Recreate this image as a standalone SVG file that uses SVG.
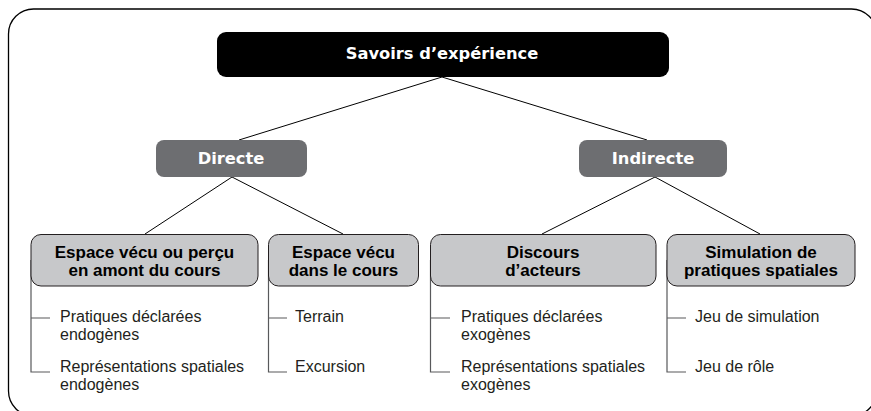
<svg xmlns="http://www.w3.org/2000/svg" width="871" height="411" viewBox="0 0 871 411">
<style>
.frame{fill:#fff;stroke:#000;stroke-width:1.3}
.top{fill:#000}
.mid{fill:#6d6e71}
.child{fill:#c7c8ca;stroke:#231f20;stroke-width:1}
.conn{stroke:#000;stroke-width:1;fill:none}
.leafline{stroke:#58595b;stroke-width:1.2;fill:none}
.tw{font-family:"DejaVu Sans","Liberation Sans",Arial,sans-serif;font-weight:bold;font-size:16.3px;fill:#fff;text-anchor:middle}
.tb{font-family:"Liberation Sans",Arial,sans-serif;font-weight:bold;font-size:17px;fill:#000;text-anchor:middle}
.tl{font-family:"Liberation Sans",Arial,sans-serif;font-size:16px;fill:#231f20}
</style>
<rect class="frame" x="8.5" y="9" width="868" height="407" rx="25" ry="25"/>
<g id="connectors">
<line class="conn" x1="442" y1="77" x2="239" y2="140"/>
<line class="conn" x1="442" y1="77" x2="647" y2="140"/>
<line class="conn" x1="232" y1="177" x2="145" y2="234"/>
<line class="conn" x1="232" y1="177" x2="343" y2="234"/>
<line class="conn" x1="655" y1="177" x2="542" y2="234"/>
<line class="conn" x1="655" y1="177" x2="760" y2="234"/>
<path class="leafline" d="M31,260 V372 H50 M31,318 H50"/>
<path class="leafline" d="M268.5,260 V372 H287 M268.5,318 H287"/>
<path class="leafline" d="M430.5,260 V372 H450 M430.5,318 H450"/>
<path class="leafline" d="M667,260 V372 H686 M667,318 H686"/>
</g>
<g id="root">
<rect class="top" x="217" y="32" width="452" height="45" rx="9"/>
<text class="tw" x="442" y="59">Savoirs d’expérience</text>
</g>
<g id="directe">
<rect class="mid" x="156" y="140" width="151" height="37" rx="8"/>
<text class="tw" x="231" y="164">Directe</text>
</g>
<g id="indirecte">
<rect class="mid" x="579" y="140" width="148" height="37" rx="8"/>
<text class="tw" x="653" y="164">Indirecte</text>
</g>
<g id="espace-amont">
<rect class="child" x="31" y="234.5" width="227" height="51.5" rx="10"/>
<text class="tb" x="144.5" y="257.5">Espace vécu ou perçu</text>
<text class="tb" x="144.5" y="275.5">en amont du cours</text>
</g>
<g id="espace-cours">
<rect class="child" x="268.5" y="234.5" width="150" height="51.5" rx="10"/>
<text class="tb" x="343.5" y="257.5">Espace vécu</text>
<text class="tb" x="343.5" y="275.5">dans le cours</text>
</g>
<g id="discours">
<rect class="child" x="430.5" y="234.5" width="225.5" height="51.5" rx="10"/>
<text class="tb" x="543" y="257.5">Discours</text>
<text class="tb" x="543" y="275.5">d’acteurs</text>
</g>
<g id="simulation">
<rect class="child" x="667" y="234.5" width="188" height="51.5" rx="10"/>
<text class="tb" x="761" y="257.5">Simulation de</text>
<text class="tb" x="761" y="275.5">pratiques spatiales</text>
</g>
<g id="leaf-pratiques-endo">
<text class="tl" x="60" y="322">Pratiques déclarées</text>
<text class="tl" x="60" y="340">endogènes</text>
</g>
<g id="leaf-repr-endo">
<text class="tl" x="60" y="372">Représentations spatiales</text>
<text class="tl" x="60" y="390">endogènes</text>
</g>
<g id="leaf-terrain">
<text class="tl" x="295" y="322">Terrain</text>
</g>
<g id="leaf-excursion">
<text class="tl" x="295" y="372">Excursion</text>
</g>
<g id="leaf-pratiques-exo">
<text class="tl" x="461" y="322">Pratiques déclarées</text>
<text class="tl" x="461" y="340">exogènes</text>
</g>
<g id="leaf-repr-exo">
<text class="tl" x="461" y="372">Représentations spatiales</text>
<text class="tl" x="461" y="390">exogènes</text>
</g>
<g id="leaf-jeu-sim">
<text class="tl" x="695" y="322">Jeu de simulation</text>
</g>
<g id="leaf-jeu-role">
<text class="tl" x="695" y="372">Jeu de rôle</text>
</g>
</svg>
